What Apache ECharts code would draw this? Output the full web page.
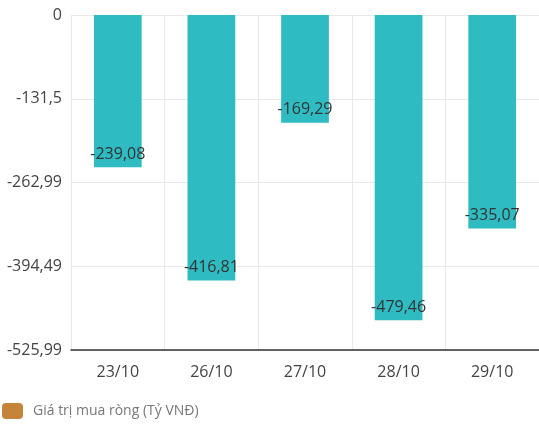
<!DOCTYPE html>
<html lang="vi">

<head>
    <meta charset="UTF-8">
    <title>Giá trị mua ròng</title>
    <script src="https://cdn.jsdelivr.net/npm/echarts@6/dist/echarts.min.js"></script>
    <style>
        body {
            margin: 0;
        }

        #root {
            width: 539px;
            height: 428px;
        }
    </style>
</head>

<body>
    <div id="root"></div>
    <script>
        var categories = ['23/10', '26/10', '27/10', '28/10', '29/10'];
        var netBuy = [-239.08, -416.81, -169.29, -479.46, -335.07];
        var tickLabels = ['0', '-131,5', '-262,99', '-394,49', '-525,99'];
        var yMin = -525.99;
        var step = 131.4975;

        var font = '"Open Sans", "Noto Sans", sans-serif';

        var mychart = echarts.init(document.getElementById('root'));

        mychart.setOption({
            animation: false,
            textStyle: { fontFamily: font },
            grid: { left: 71, right: -4, top: 15, bottom: 78 },
            legend: {
                left: -3,
                top: 398,
                itemWidth: 21,
                itemHeight: 16,
                icon: 'roundRect',
                textStyle: { color: '#777', fontSize: 14, fontFamily: font, padding: [0, 0, 0, 5] },
                data: [{ name: 'Giá trị mua ròng (Tỷ VNĐ)', itemStyle: { color: '#c4843a' } }]
            },
            xAxis: {
                type: 'category',
                data: categories,
                axisLine: { onZero: false, lineStyle: { color: '#333', width: 1.5 } },
                axisTick: { length: 6, lineStyle: { color: '#333' } },
                axisLabel: { color: '#444', fontSize: 16, margin: 14, fontFamily: font },
                splitLine: { show: true, lineStyle: { color: '#e8e8e8' } }
            },
            yAxis: {
                type: 'value',
                min: yMin,
                max: 0,
                interval: step,
                axisLine: { show: false },
                axisTick: { show: false },
                axisLabel: {
                    color: '#444',
                    fontSize: 16,
                    margin: 9,
                    fontFamily: font,
                    formatter: function (v) {
                        return tickLabels[Math.round(-v / step)];
                    }
                },
                splitLine: { lineStyle: { color: '#e8e8e8' } }
            },
            series: [{
                name: 'Giá trị mua ròng (Tỷ VNĐ)',
                type: 'bar',
                data: netBuy,
                barWidth: '51%',
                itemStyle: { color: '#2ebcc2' },
                label: {
                    show: true,
                    position: 'insideBottom',
                    distance: 5,
                    color: '#333',
                    fontSize: 16,
                    fontFamily: font,
                    formatter: function (p) {
                        return String(p.value).replace('.', ',');
                    }
                }
            }]
        });
    </script>
</body>

</html>
